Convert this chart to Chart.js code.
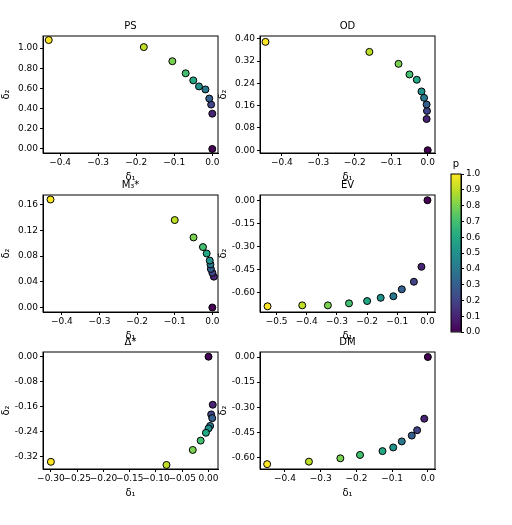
<!DOCTYPE html>
<html><head><meta charset="utf-8">
<script src="https://cdn.jsdelivr.net/npm/chart.js@4"></script>
<style>body{margin:0;background:#fff;width:512px;height:525px;position:relative;overflow:hidden}
.c{position:absolute}</style></head><body>
<div class="c" style="left:0;top:13px;width:225px;height:170px"><canvas id="c0"></canvas></div>
<div class="c" style="left:217px;top:13px;width:225px;height:170px"><canvas id="c1"></canvas></div>
<div class="c" style="left:0;top:172px;width:225px;height:170px"><canvas id="c2"></canvas></div>
<div class="c" style="left:217px;top:172px;width:225px;height:170px"><canvas id="c3"></canvas></div>
<div class="c" style="left:0;top:329px;width:225px;height:170px"><canvas id="c4"></canvas></div>
<div class="c" style="left:217px;top:329px;width:225px;height:170px"><canvas id="c5"></canvas></div>
<div class="c" style="left:420px;top:150px;width:92px;height:200px"><canvas id="cb"></canvas></div>
<script>
const pValues=[0,0.1,0.2,0.3,0.4,0.5,0.6,0.7,0.8,0.9,1.0];
const viridis=['#440154','#482475','#414487','#355f8d','#2a788e','#21918c','#22a884','#44bf70','#7ad151','#bddf26','#fde725'];
const titles=['PS','OD','M₃*','EV','Δ*','DM'];
const psX=[0,0,-0.003,-0.008,-0.018,-0.035,-0.05,-0.07,-0.105,-0.18,-0.43];
const psY=[0,0.35,0.44,0.50,0.59,0.62,0.68,0.75,0.87,1.01,1.08];
const odX=[0,-0.003,-0.002,-0.003,-0.01,-0.017,-0.03,-0.05,-0.08,-0.16,-0.445];
const odY=[0,0.112,0.141,0.164,0.188,0.211,0.253,0.272,0.310,0.353,0.389];
const m3X=[0,0.004,0,-0.004,-0.005,-0.007,-0.015,-0.025,-0.05,-0.1,-0.43];
const m3Y=[0,0.048,0.054,0.060,0.067,0.073,0.084,0.094,0.109,0.136,0.168];
const evX=[0,-0.02,-0.045,-0.085,-0.113,-0.155,-0.2,-0.26,-0.33,-0.415,-0.53];
const evY=[0,-0.431,-0.528,-0.577,-0.622,-0.632,-0.653,-0.668,-0.681,-0.681,-0.687];
const dsX=[0,0.008,0.005,0.007,0.003,0,-0.005,-0.015,-0.03,-0.08,-0.30];
const dsY=[0,-0.154,-0.185,-0.197,-0.222,-0.230,-0.244,-0.269,-0.299,-0.347,-0.337];
const dmX=[0,-0.01,-0.03,-0.045,-0.073,-0.097,-0.127,-0.19,-0.245,-0.333,-0.45];
const dmY=[0,-0.369,-0.438,-0.47,-0.505,-0.541,-0.563,-0.586,-0.606,-0.626,-0.641];
const xTicksA=[-0.4,-0.3,-0.2,-0.1,0.0];
const xTicksEV=[-0.5,-0.4,-0.3,-0.2,-0.1,0.0];
const xTicksDS=[-0.30,-0.25,-0.20,-0.15,-0.10,-0.05,0.00];
const yTicksPS=[0,0.2,0.4,0.6,0.8,1.0];
const yTicksOD=[0,0.08,0.16,0.24,0.32,0.40];
const yTicksM3=[0,0.04,0.08,0.12,0.16];
const yTicksEV=[0,-0.15,-0.30,-0.45,-0.60];
const yTicksDS=[0,-0.08,-0.16,-0.24,-0.32];
const cbTicks=[0,0.1,0.2,0.3,0.4,0.5,0.6,0.7,0.8,0.9,1.0];

const panels=[
 {x:psX,y:psY,xr:[-0.445,0.015],yr:[-0.04,1.12],xt:xTicksA,yt:yTicksPS,xd:1,yd:2,ym:false},
 {x:odX,y:odY,xr:[-0.46,0.02],yr:[-0.01,0.41],xt:xTicksA,yt:yTicksOD,xd:1,yd:2,ym:false},
 {x:m3X,y:m3Y,xr:[-0.45,0.015],yr:[-0.007,0.175],xt:xTicksA,yt:yTicksM3,xd:1,yd:2,ym:false},
 {x:evX,y:evY,xr:[-0.555,0.025],yr:[-0.724,0.034],xt:xTicksEV,yt:yTicksEV,xd:1,yd:2,ym:true},
 {x:dsX,y:dsY,xr:[-0.315,0.018],yr:[-0.36,0.015],xt:xTicksDS,yt:yTicksDS,xd:2,yd:2,ym:true},
 {x:dmX,y:dmY,xr:[-0.47,0.02],yr:[-0.67,0.03],xt:xTicksA,yt:yTicksEV,xd:1,yd:2,ym:true}
];
const font={family:'DejaVu Sans',size:9};
const frame={id:'frame',afterDraw(c){const a=c.chartArea,x=c.ctx;x.save();x.strokeStyle='#000';x.lineWidth=1;x.strokeRect(a.left,a.top,a.right-a.left,a.bottom-a.top);
 const t=c.options.plugins.ptitle&&c.options.plugins.ptitle.text;
 if(t){x.fillStyle='#000';x.font='10px DejaVu Sans';x.textAlign='center';x.textBaseline='bottom';x.fillText(t,(a.left+a.right)/2,a.top-5);}
 x.restore();}};
function fmt(v,d,minus){const s=Math.abs(v).toFixed(d);return v<-1e-9?(minus?'-':'−')+s:s;}
panels.forEach((p,i)=>{
 new Chart(document.getElementById('c'+i),{type:'scatter',
  data:{datasets:[{data:p.x.map((v,k)=>({x:v,y:p.y[k]})),backgroundColor:viridis,borderColor:'#000',borderWidth:1,pointRadius:3.5,pointHoverRadius:3.5}]},
  options:{animation:false,responsive:true,maintainAspectRatio:false,
   layout:{padding:{right:7,left:0,top:23,bottom:0}},
   plugins:{legend:{display:false},tooltip:{enabled:false},ptitle:{text:titles[i]}},
   scales:{
    x:{type:'linear',min:p.xr[0],max:p.xr[1],afterBuildTicks:s=>{s.ticks=p.xt.map(v=>({value:v}));},afterFit:s=>{s.height=30;},
     grid:{drawOnChartArea:false,drawTicks:true,tickLength:3,color:'#000'},border:{color:'#000'},
     ticks:{color:'#000',font,padding:1,maxRotation:0,autoSkip:false,callback:v=>fmt(v,p.xd,false)},
     title:{display:true,text:'δ₁',color:'#000',font:{family:'DejaVu Sans',size:10},padding:{top:0,bottom:0}}},
    y:{type:'linear',min:p.yr[0],max:p.yr[1],afterBuildTicks:s=>{s.ticks=p.yt.map(v=>({value:v}));},afterFit:s=>{s.width=43;},
     grid:{drawOnChartArea:false,drawTicks:true,tickLength:3,color:'#000'},border:{color:'#000'},
     ticks:{color:'#000',font,padding:2,autoSkip:false,callback:v=>fmt(v,p.yd,p.ym)},
     title:{display:true,text:'δ₂',color:'#000',font:{family:'DejaVu Sans',size:10},padding:{top:0,bottom:0}}}
   }},plugins:[frame]});
});
new Chart(document.getElementById('cb'),{type:'bar',
 data:{labels:['p'],datasets:[{data:[1],borderWidth:0,barPercentage:1,categoryPercentage:1,
  backgroundColor:(ctx)=>{const a=ctx.chart.chartArea;if(!a)return viridis[5];const g=ctx.chart.ctx.createLinearGradient(0,a.bottom,0,a.top);viridis.forEach((c,k)=>g.addColorStop(pValues[k],c));return g;}}]},
 options:{animation:false,responsive:true,maintainAspectRatio:false,
  layout:{padding:{left:31,right:0,top:24,bottom:18}},
  plugins:{legend:{display:false},tooltip:{enabled:false},ptitle:{text:'p'}},
  scales:{x:{display:false},
   y:{position:'right',min:0,max:1,afterBuildTicks:s=>{s.ticks=cbTicks.map(v=>({value:v}));},afterFit:s=>{s.width=51;},
    grid:{drawOnChartArea:false,drawTicks:true,tickLength:3,color:'#000'},border:{color:'#000'},
    ticks:{color:'#000',font,padding:2,callback:v=>v.toFixed(1)}}}},plugins:[frame]});
</script></body></html>
